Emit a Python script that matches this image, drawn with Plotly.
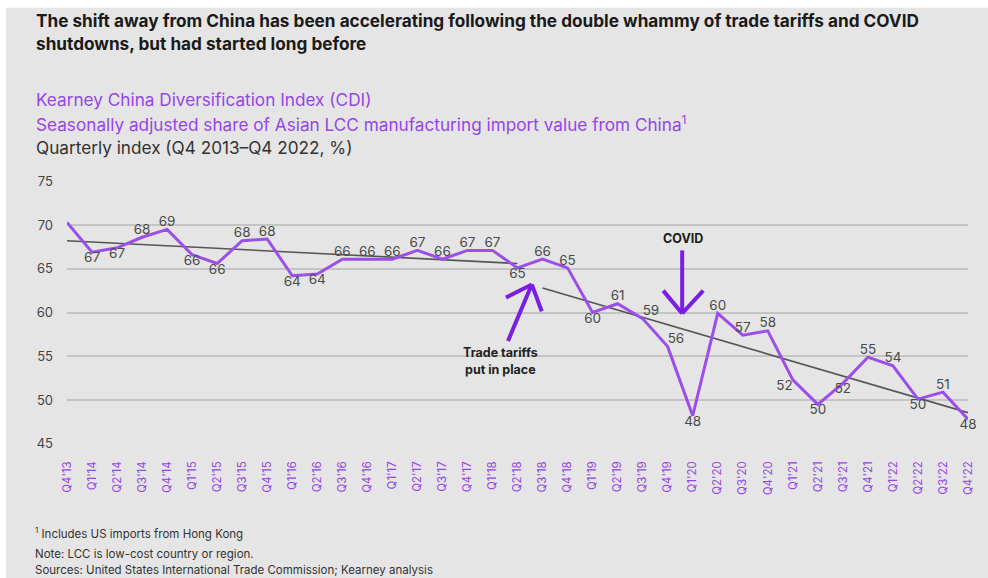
import plotly.graph_objects as go

quarters = ["Q4'13", "Q1'14", "Q2'14", "Q3'14", "Q4'14", "Q1'15", "Q2'15", "Q3'15", "Q4'15",
            "Q1'16", "Q2'16", "Q3'16", "Q4'16", "Q1'17", "Q2'17", "Q3'17", "Q4'17", "Q1'18",
            "Q2'18", "Q3'18", "Q4'18", "Q1'19", "Q2'19", "Q3'19", "Q4'19", "Q1'20", "Q2'20",
            "Q3'20", "Q4'20", "Q1'21", "Q2'21", "Q3'21", "Q4'21", "Q1'22", "Q2'22", "Q3'22", "Q4'22"]
cdi = [70.3, 66.9, 67.4, 68.6, 69.5, 66.6, 65.6, 68.2, 68.4,
       64.2, 64.4, 66.1, 66.1, 66.1, 67.1, 66.1, 67.1, 67.1,
       65.1, 66.1, 65.1, 60.0, 61.0, 59.3, 56.1, 48.2, 59.9,
       57.4, 57.9, 52.3, 49.5, 51.9, 54.9, 53.9, 50.1, 50.9, 47.8]
labels = [None, "67", "67", "68", "69", "66", "66", "68", "68",
          "64", "64", "66", "66", "66", "67", "66", "67", "67",
          "65", "66", "65", "60", "61", "59", "56", "48", "60",
          "57", "58", "52", "50", "52", "55", "54", "50", "51", "48"]
label_pos = ["top center", "bottom center", "bottom center", "top center", "top center",
             "bottom center", "bottom center", "top center", "top center",
             "bottom center", "bottom center", "top center", "top center", "top center",
             "top center", "top center", "top center", "top center",
             "bottom center", "top center", "top center", "bottom center", "top center",
             "top right", "top right", "bottom center", "top center",
             "top center", "top center", "bottom left", "bottom center", "bottom center",
             "top center", "top center", "bottom center", "top center", "bottom center"]
# trend lines: (start index, end index, start value, end value)
trend_pre_x = [0, 18]
trend_pre_y = [68.2, 65.6]
trend_post_x = [19, 36]
trend_post_y = [62.8, 48.55]
y_ticks = [45, 50, 55, 60, 65, 70, 75]

PURPLE = "#9b4fe8"
ARROW = "#7a1fe0"
FONT = "Inter, Roboto, sans-serif"

xs = list(range(len(quarters)))
lab_idx = [i for i, s in enumerate(labels) if s]

# plot-area pixel geometry helpers (for layout text placement)
W, H = 988, 578
L, R, T, B = 67, 968, 180.5, 444
def px(x):
    return (x - L) / (R - L)
def py(y):
    return (B - y) / (B - T)

fig = go.Figure()
fig.add_trace(go.Scatter(x=trend_pre_x, y=trend_pre_y, mode="lines",
                         line=dict(color="#555555", width=1.6), hoverinfo="skip", showlegend=False))
fig.add_trace(go.Scatter(x=trend_post_x, y=trend_post_y, mode="lines",
                         line=dict(color="#555555", width=1.6), hoverinfo="skip", showlegend=False))
fig.add_trace(go.Scatter(x=xs, y=cdi, mode="lines",
                         line=dict(color=PURPLE, width=3), showlegend=False))
fig.add_trace(go.Scatter(x=[xs[i] for i in lab_idx], y=[cdi[i] for i in lab_idx], mode="text",
                         text=[labels[i] for i in lab_idx], textposition=[label_pos[i] for i in lab_idx],
                         textfont=dict(family=FONT, size=13.5, color="#4a4a4a"),
                         cliponaxis=False, hoverinfo="skip", showlegend=False))

# background panel
fig.add_shape(type="rect", xref="paper", yref="paper", x0=px(6), x1=px(1000), y0=py(590), y1=py(7),
              fillcolor="#e5e5e5", line=dict(width=0), layer="below")

# arrows (in data coordinates: x = quarter index, y = index value)
covid_shaft = dict(x0=24.58, y0=67.1, x1=24.58, y1=59.9)
covid_arms = [(23.82, 62.5), (25.42, 62.5)]
tariff_shaft = dict(x0=17.62, y0=56.75, x1=18.57, y1=63.2)
tariff_arms = [(17.54, 61.7), (18.97, 60.15)]
fig.add_shape(type="line", xref="x", yref="y", **covid_shaft, line=dict(color=ARROW, width=4))
for ax, ay in covid_arms:
    fig.add_shape(type="line", xref="x", yref="y", x0=ax, y0=ay, x1=covid_shaft["x1"], y1=covid_shaft["y1"],
                  line=dict(color=ARROW, width=4))
fig.add_shape(type="line", xref="x", yref="y", **tariff_shaft, line=dict(color=ARROW, width=4))
for ax, ay in tariff_arms:
    fig.add_shape(type="line", xref="x", yref="y", x0=ax, y0=ay, x1=tariff_shaft["x1"], y1=tariff_shaft["y1"],
                  line=dict(color=ARROW, width=4))

ann = []
def text(x, y, s, size, color, bold=False, anchor="left", family=FONT):
    ann.append(dict(xref="paper", yref="paper", x=px(x), y=py(y), text=f"<b>{s}</b>" if bold else s,
                    showarrow=False, xanchor=anchor, yanchor="middle",
                    font=dict(family=family, size=size, color=color)))

text(34, 19.5, "The shift away from China has been accelerating following the double whammy of trade tariffs and COVID", 17.2, "#1a1a1a", bold=True)
text(34, 42.5, "shutdowns, but had started long before", 17.2, "#1a1a1a", bold=True)
text(34, 99, "Kearney China Diversification Index (CDI)", 17.2, "#9545e6")
text(34, 122.5, "Seasonally adjusted share of Asian LCC manufacturing import value from China<sup>1</sup>", 17.2, "#9545e6")
text(34, 146.5, "Quarterly index (Q4 2013–Q4 2022, %)", 17.2, "#333333")
text(682.5, 238.5, "COVID", 12.5, "#1a1a1a", bold=True, anchor="center")
text(500.5, 352, "Trade tariffs", 12.5, "#222222", bold=True, anchor="center")
text(500.5, 369, "put in place", 12.5, "#222222", bold=True, anchor="center")
text(33, 533.5, "<sup>1</sup> Includes US imports from Hong Kong", 11.5, "#333333")
text(33, 554, "Note: LCC is low-cost country or region.", 11.5, "#333333")
text(33, 570.5, "Sources: United States International Trade Commission; Kearney analysis", 11.5, "#333333")

fig.update_layout(
    width=W, height=H,
    margin=dict(l=L, r=W - R, t=T, b=H - B),
    paper_bgcolor="white", plot_bgcolor="rgba(0,0,0,0)",
    annotations=ann,
    font=dict(family=FONT),
    xaxis=dict(range=[0, len(quarters) - 1], tickvals=xs, ticktext=quarters, tickangle=-90,
               showgrid=False, zeroline=False, showline=False, ticks="",
               ticklabelstandoff=14,
               tickfont=dict(family=FONT, size=11.5, color="#9545e6"), fixedrange=True),
    yaxis=dict(range=[44.97, 75.03], tickvals=y_ticks, showgrid=True, gridcolor="#c4c4c4", gridwidth=1.5,
               zeroline=False, showline=False, ticks="", ticklabelstandoff=13,
               tickfont=dict(family=FONT, size=13, color="#444444"), fixedrange=True),
)

fig.write_html("out.html", config={"displayModeBar": False},
               post_script="document.body.style.margin='0';")
